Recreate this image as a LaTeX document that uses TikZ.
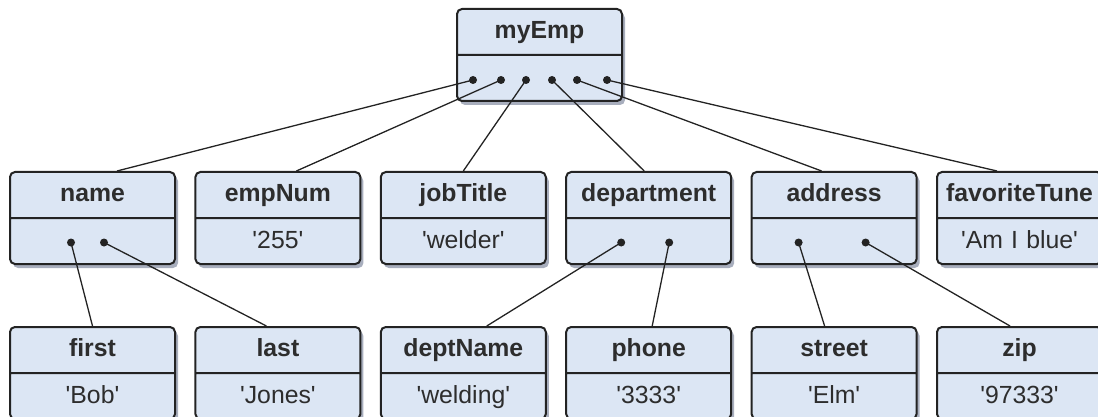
\documentclass[tikz,border=0pt]{standalone}
\usepackage{fontspec}
\setmainfont{Liberation Sans}
\usetikzlibrary{shapes.multipart, shadows, positioning}

\definecolor{boxfill}{RGB}{220,230,244}
\definecolor{linecol}{RGB}{35,35,35}
\definecolor{textcol}{RGB}{45,45,45}
\definecolor{shadowcol}{RGB}{110,120,145}
\newcommand{\quoted}[1]{\textquotesingle#1\textquotesingle}
\newcommand{\rec}[2]{\rule[-7.75pt]{0pt}{22pt}\textbf{#1}\nodepart{two}\rule[-7.5pt]{0pt}{22pt}#2}

\begin{document}
\begin{tikzpicture}[x=0.5pt, y=-0.5pt, node distance=92.7pt, font=\fontsize{12.4}{14}\selectfont]

    % Define the styles for the nodes
    \tikzstyle{record} = [rectangle split, rectangle split parts=2, draw=linecol, line width=1pt, rounded corners=2.5pt, fill=boxfill, text=textcol, text width=78.5pt, align=center, inner xsep=2pt, inner ysep=0pt, drop shadow={shadow xshift=1.5pt, shadow yshift=-2pt, fill=shadowcol, opacity=0.6}]
    \tikzstyle{dot} = [circle, fill=linecol, inner sep=0pt, minimum size=4pt]
    \tikzstyle{conn} = [draw=linecol, line width=0.65pt]

    \useasboundingbox (0,0) rectangle (1098,417);

    % Nodes
    \node (myEmp) [record] at (539.5,55) {\rec{myEmp}{}};

    \node (name) [record] at (92.5,218) {\rec{name}{}};
    \node (empNum) [record, right of=name] {\rec{empNum}{\quoted{255}}};
    \node (jobTitle) [record, right of=empNum] {\rec{jobTitle}{\quoted{welder}}};
    \node (department) [record, right of=jobTitle] {\rec{department}{}};
    \node (address) [record, right of=department] {\rec{address}{}};
    \node (favoriteTune) [record, right of=address] {\rec{favoriteTune}{\quoted{Am I blue}}};

    \node (first) [record, below of=name, node distance=77.5pt] {\rec{first}{\quoted{Bob}}};
    \node (last) [record, below of=empNum, node distance=77.5pt] {\rec{last}{\quoted{Jones}}};
    \node (deptName) [record, below of=jobTitle, node distance=77.5pt] {\rec{deptName}{\quoted{welding}}};
    \node (phone) [record, below of=department, node distance=77.5pt] {\rec{phone}{\quoted{3333}}};
    \node (street) [record, below of=address, node distance=77.5pt] {\rec{street}{\quoted{Elm}}};
    \node (zip) [record, below of=favoriteTune, node distance=77.5pt] {\rec{zip}{\quoted{97333}}};

    % Dots
    \node (emp1) [dot] at ([xshift=-33.25pt, yshift=11pt]myEmp.south) {};
    \node (emp2) [dot] at ([xshift=-19.25pt, yshift=11pt]myEmp.south) {};
    \node (emp3) [dot] at ([xshift=-6.75pt, yshift=11pt]myEmp.south) {};
    \node (emp4) [dot] at ([xshift=6.25pt, yshift=11pt]myEmp.south) {};
    \node (emp5) [dot] at ([xshift=18.75pt, yshift=11pt]myEmp.south) {};
    \node (emp6) [dot] at ([xshift=33.75pt, yshift=11pt]myEmp.south) {};
    \node (name1) [dot] at ([xshift=-10.75pt, yshift=11.25pt]name.south) {};
    \node (name2) [dot] at ([xshift=5.75pt, yshift=11.25pt]name.south) {};
    \node (dept1) [dot] at ([xshift=-13.75pt, yshift=11.25pt]department.south) {};
    \node (dept2) [dot] at ([xshift=10.25pt, yshift=11.25pt]department.south) {};
    \node (addr1) [dot] at ([xshift=-17.75pt, yshift=11.25pt]address.south) {};
    \node (addr2) [dot] at ([xshift=15.75pt, yshift=11.25pt]address.south) {};

    % Connectors
    \draw[conn] (emp1.center) -- ([xshift=12.25pt]name.north);
    \draw[conn] (emp2.center) -- ([xshift=9.25pt]empNum.north);
    \draw[conn] (emp3.center) -- (jobTitle.north);
    \draw[conn] (emp4.center) -- ([xshift=-2.25pt]department.north);
    \draw[conn] (emp5.center) -- ([xshift=-6.25pt]address.north);
    \draw[conn] (emp6.center) -- ([xshift=-11.25pt]favoriteTune.north);
    \draw[conn] (name1.center) -- (first.north);
    \draw[conn] (name2.center) -- ([xshift=-5.75pt]last.north);
    \draw[conn] (dept1.center) -- ([xshift=11.75pt]deptName.north);
    \draw[conn] (dept2.center) -- ([xshift=1.75pt]phone.north);
    \draw[conn] (addr1.center) -- ([xshift=-4.75pt]street.north);
    \draw[conn] (addr2.center) -- ([xshift=-4.75pt]zip.north);

\end{tikzpicture}
\end{document}
